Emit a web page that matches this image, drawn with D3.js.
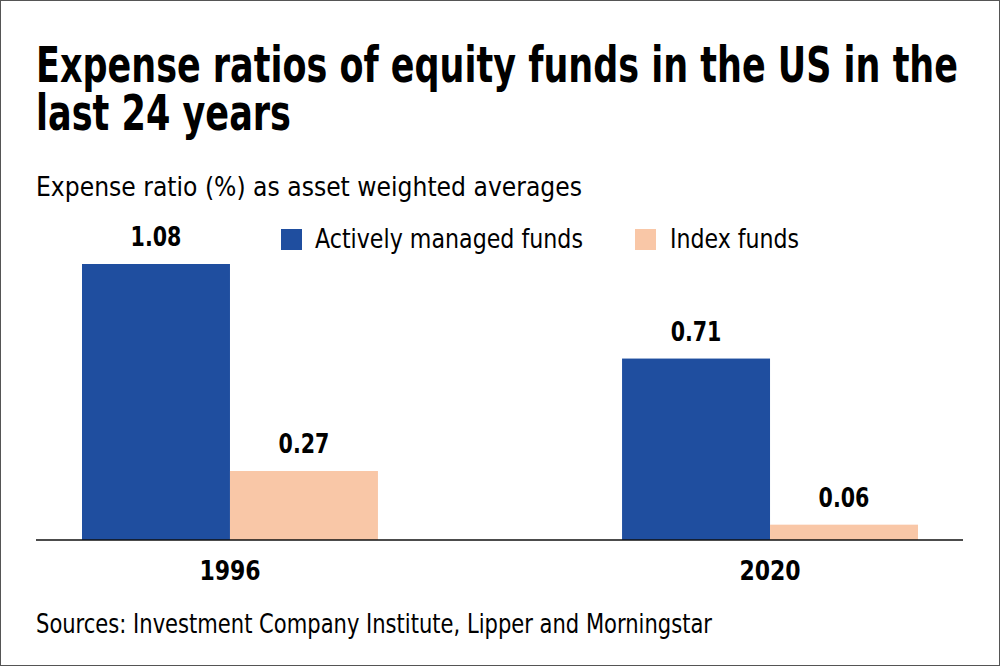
<!DOCTYPE html>
<html><head><meta charset="utf-8">
<script src="https://cdn.jsdelivr.net/npm/d3@7"></script>
<style>
html,body{margin:0;padding:0;background:#fff;}
svg text{font-family:"Liberation Sans Narrow","DejaVu Sans Condensed","Arial Narrow",sans-serif;}
</style></head><body>
<svg id="c" width="1000" height="666"></svg>
<script>
const years = ["1996", "2020"];
const seriesNames = ["Actively managed funds", "Index funds"];
const activeValues = [1.08, 0.71];
const indexValues = [0.27, 0.06];
const seriesColors = ["#1f4e9f", "#f9c7a7"];
const valueLabels = [["1.08", "0.71"], ["0.27", "0.06"]];
const titleLines = ["Expense ratios of equity funds in the US in the", "last 24 years"];

const svg = d3.select("#c");
svg.append("rect").attr("x",0.5).attr("y",0.5).attr("width",999).attr("height",665)
  .attr("fill","#fff").attr("stroke","#555").attr("stroke-width",1);

function fit(sel, w){ sel.attr("textLength", w).attr("lengthAdjust","spacingAndGlyphs"); return sel; }
function squeeze(sel, k){ sel.each(function(){ const w=this.getComputedTextLength(); d3.select(this).attr("textLength", w*k).attr("lengthAdjust","spacingAndGlyphs"); }); return sel; }

const title = svg.append("text").attr("font-size",50).attr("font-weight","bold").attr("fill","#000");
const titleW = [922, 255];
titleLines.forEach((t,i)=>{
  fit(title.append("tspan").attr("x",36).attr("y", i===0 ? 82 : 130).text(t), titleW[i]);
});
fit(svg.append("text").attr("x",36).attr("y",196).attr("font-size",26).attr("fill","#000")
  .text("Expense ratio (%) as asset weighted averages"), 546);

// legend
const legendX = [[281, 315, 268], [635, 670, 129]];
seriesNames.forEach((n,i)=>{
  svg.append("rect").attr("x",legendX[i][0]).attr("y",229).attr("width",21).attr("height",21).attr("fill",seriesColors[i]);
  fit(svg.append("text").attr("x",legendX[i][1]).attr("y",248).attr("font-size",27).attr("fill","#000").text(n), legendX[i][2]);
});

const x0 = d3.scaleBand().domain(years).range([82, 918]).paddingInner(0.452).paddingOuter(0);
const x1 = d3.scaleBand().domain(seriesNames).range([0, x0.bandwidth()]);
const y = d3.scaleLinear().domain([0, 1.08]).range([540, 264]);

const data = [activeValues, indexValues];
data.forEach((vals, si)=>{
  years.forEach((yr, yi)=>{
    const xx = x0(yr) + x1(seriesNames[si]);
    svg.append("rect").attr("x", xx).attr("y", y(vals[yi])).attr("width", x1.bandwidth())
      .attr("height", y(0)-y(vals[yi])).attr("fill", seriesColors[si]);
    squeeze(svg.append("text").attr("x", xx + x1.bandwidth()/2).attr("y", y(vals[yi]) - 18)
      .attr("text-anchor","middle").attr("font-size",26).attr("font-weight","bold").attr("fill","#000")
      .text(valueLabels[si][yi]), 0.88);
  });
});

// x axis
const axis = svg.append("g").attr("transform","translate(0,540)")
  .call(d3.axisBottom(x0).tickSize(0).tickPadding(0));
axis.select(".domain").remove();
axis.append("line").attr("x1",36).attr("x2",963).attr("y1",0).attr("y2",0).attr("stroke","#111").attr("stroke-width",1.6);
squeeze(axis.selectAll(".tick text").attr("y",40).attr("dy",0).attr("font-size",26).attr("font-weight","bold")
  .attr("fill","#000").style("font-family",'"Liberation Sans Narrow","DejaVu Sans Condensed",sans-serif'), 0.94);

fit(svg.append("text").attr("x",36).attr("y",633).attr("font-size",27).attr("fill","#000")
  .text("Sources: Investment Company Institute, Lipper and Morningstar"), 676);
</script>
</body></html>
